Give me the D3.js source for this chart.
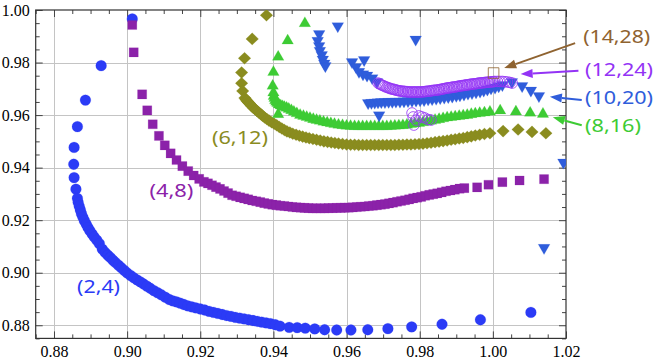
<!DOCTYPE html>
<html><head><meta charset="utf-8">
<script src="https://cdn.jsdelivr.net/npm/d3@7"></script>
<style>body{margin:0;background:#fff}svg{display:block}</style>
</head><body>
<svg id="c" width="655" height="362"></svg>
<script>
// ---------- data ----------
const seriesNames = ["(2,4)","(4,8)","(6,12)","(8,16)","(10,20)","(12,24)","(14,28)"];
const xTickValues = [0.88,0.90,0.92,0.94,0.96,0.98,1.00,1.02];
const xTickLabels = ["0.88","0.90","0.92","0.94","0.96","0.98","1.00","1.02"];
const yTickValues = [0.88,0.90,0.92,0.94,0.96,0.98,1.00];
const yTickLabels = ["0.88","0.90","0.92","0.94","0.96","0.98","1.00"];

const s2_4 = [
[0.9014,0.9966],[0.8929,0.9788],[0.8886,0.9657],[0.8864,0.9556],[0.8855,0.9477],[0.8854,0.9413],[0.8855,0.9362],[0.8860,0.9318],[0.8864,0.9283],
[0.8866,0.9268],[0.8869,0.9253],[0.8872,0.9239],[0.8875,0.9225],[0.8879,0.9211],[0.8883,0.9198],[0.8888,0.9185],[0.8893,0.9172],[0.8898,0.9160],[0.8904,0.9148],[0.8910,0.9136],[0.8917,0.9124],[0.8924,0.9111],[0.8932,0.9090],
[0.8940,0.9077],[0.8947,0.9067],[0.8954,0.9058],[0.8961,0.9048],[0.8968,0.9039],[0.8976,0.9029],[0.8984,0.9019],[0.8992,0.9009],[0.9000,0.8999],
[0.9009,0.8990],[0.9018,0.8981],[0.9027,0.8973],[0.9036,0.8965],[0.9045,0.8957],[0.9054,0.8949],[0.9063,0.8941],[0.9073,0.8932],[0.9083,0.8924],[0.9093,0.8916],[0.9104,0.8907],[0.9115,0.8898],
[0.9125,0.8893],[0.9135,0.8889],[0.9145,0.8884],[0.9155,0.8879],[0.9166,0.8874],[0.9177,0.8870],[0.9188,0.8866],[0.9200,0.8862],
[0.9212,0.8858],[0.9224,0.8853],[0.9236,0.8849],[0.9248,0.8845],[0.9260,0.8841],[0.9272,0.8837],[0.9284,0.8834],[0.9296,0.8830],[0.9308,0.8827],[0.9320,0.8824],[0.9332,0.8821],[0.9344,0.8818],[0.9356,0.8815],[0.9368,0.8812],[0.9380,0.8809],[0.9392,0.8806],[0.9405,0.8802],
[0.9418,0.8797],[0.9443,0.8792],[0.9465,0.8791],[0.9487,0.8789],[0.9513,0.8786],[0.9540,0.8783],[0.9573,0.8782],[0.9612,0.8782],[0.9658,0.8783],[0.9713,0.8787],[0.9778,0.8794],[0.9861,0.8804],[0.9966,0.8821],[1.0104,0.8849]
];

const s4_8 = [
[0.9014,0.9943],[0.9018,0.9839],[0.9041,0.9679],[0.9055,0.9618],[0.9070,0.9565],[0.9087,0.9521],[0.9103,0.9485],[0.9119,0.9454],[0.9135,0.9429],[0.9151,0.9406],[0.9167,0.9387],[0.9182,0.9370],[0.9197,0.9357],
[0.9210,0.9346],[0.9221,0.9340],[0.9232,0.9333],[0.9243,0.9326],[0.9254,0.9319],[0.9265,0.9311],[0.9276,0.9303],[0.9287,0.9295],[0.9298,0.9291],[0.9309,0.9287],[0.9320,0.9283],[0.9331,0.9279],[0.9342,0.9275],[0.9353,0.9272],[0.9364,0.9269],[0.9375,0.9265],[0.9386,0.9262],[0.9397,0.9259],[0.9408,0.9257],[0.9419,0.9255],[0.9430,0.9254],[0.9441,0.9252],[0.9452,0.9250],[0.9463,0.9249],[0.9474,0.9248],[0.9485,0.9247],[0.9496,0.9246],[0.9507,0.9245],[0.9518,0.9245],[0.9529,0.9245],[0.9540,0.9245],[0.9551,0.9246],[0.9562,0.9246],[0.9573,0.9247],[0.9584,0.9247],[0.9595,0.9248],[0.9606,0.9248],[0.9617,0.9249],[0.9628,0.9250],[0.9639,0.9251],[0.9650,0.9252],[0.9661,0.9254],[0.9672,0.9255],[0.9683,0.9257],[0.9694,0.9259],[0.9705,0.9261],[0.9716,0.9264],[0.9727,0.9267],[0.9738,0.9270],[0.9749,0.9273],[0.9760,0.9276],[0.9771,0.9279],[0.9782,0.9283],[0.9793,0.9286],[0.9804,0.9289],[0.9815,0.9293],[0.9826,0.9296],[0.9837,0.9299],[0.9848,0.9302],[0.9860,0.9306],[0.9872,0.9310],[0.9884,0.9313],[0.9896,0.9316],[0.9909,0.9320],[0.9922,0.9322],
[0.9957,0.9325],[0.9988,0.9335],[1.0026,0.9345],[1.0073,0.9351],[1.0140,0.9356]
];

const s6_12 = [
[0.9381,0.9980],[0.9342,0.9890],[0.9321,0.9816],[0.9313,0.9762],[0.9313,0.9721],[0.9316,0.9692],
[0.9322,0.9665],[0.9325,0.9659],[0.9328,0.9654],[0.9331,0.9649],[0.9334,0.9645],[0.9337,0.9640],[0.9341,0.9634],[0.9345,0.9628],[0.9350,0.9622],[0.9355,0.9616],[0.9360,0.9610],[0.9365,0.9604],[0.9370,0.9598],[0.9376,0.9591],[0.9382,0.9585],[0.9388,0.9579],[0.9395,0.9573],[0.9402,0.9567],[0.9409,0.9561],[0.9416,0.9555],[0.9423,0.9549],[0.9430,0.9543],[0.9437,0.9538],[0.9445,0.9534],[0.9453,0.9529],[0.9462,0.9525],[0.9471,0.9521],[0.9480,0.9518],[0.9489,0.9515],[0.9498,0.9512],[0.9508,0.9509],[0.9518,0.9506],[0.9528,0.9503],[0.9538,0.9500],[0.9548,0.9498],[0.9558,0.9496],[0.9568,0.9494],[0.9578,0.9492],[0.9589,0.9490],[0.9600,0.9488],[0.9611,0.9487],[0.9622,0.9487],[0.9633,0.9486],[0.9644,0.9486],[0.9655,0.9486],[0.9666,0.9486],[0.9677,0.9486],[0.9688,0.9486],[0.9699,0.9486],[0.9710,0.9486],[0.9721,0.9486],[0.9732,0.9486],[0.9743,0.9487],[0.9754,0.9487],[0.9765,0.9488],[0.9776,0.9488],[0.9787,0.9489],[0.9798,0.9490],[0.9809,0.9491],[0.9820,0.9493],[0.9831,0.9495],[0.9842,0.9497],[0.9853,0.9499],[0.9864,0.9501],[0.9875,0.9503],[0.9886,0.9506],[0.9897,0.9508],[0.9908,0.9511],[0.9919,0.9513],[0.9930,0.9516],[0.9941,0.9519],[0.9952,0.9522],[0.9964,0.9525],[0.9977,0.9528],[0.9992,0.9531],
[1.0028,0.9539],[1.0069,0.9545],[1.0107,0.9536],[1.0145,0.9531]
];

const s8_16 = [
[0.9486,0.9949],[0.9439,0.9883],[0.9413,0.9821],[0.9400,0.9763],[0.9398,0.9711],[0.9400,0.9685],[0.9413,0.9603],
[0.9401,0.9672],[0.9403,0.9664],[0.9405,0.9656],[0.9408,0.9650],[0.9411,0.9645],[0.9415,0.9640],[0.9420,0.9636],[0.9425,0.9633],[0.9430,0.9630],[0.9436,0.9627],[0.9442,0.9623],[0.9449,0.9618],[0.9456,0.9612],[0.9464,0.9606],[0.9473,0.9600],[0.9482,0.9596],[0.9491,0.9592],[0.9500,0.9588],[0.9509,0.9584],[0.9518,0.9581],[0.9527,0.9578],[0.9537,0.9574],[0.9547,0.9571],[0.9557,0.9568],[0.9567,0.9565],[0.9578,0.9563],[0.9589,0.9561],[0.9600,0.9559],[0.9611,0.9558],[0.9622,0.9557],[0.9633,0.9557],[0.9644,0.9557],[0.9655,0.9557],[0.9666,0.9557],[0.9677,0.9557],[0.9688,0.9557],[0.9699,0.9557],[0.9710,0.9557],[0.9721,0.9558],[0.9732,0.9559],[0.9743,0.9560],[0.9754,0.9561],[0.9765,0.9563],[0.9776,0.9565],[0.9787,0.9567],[0.9798,0.9569],[0.9809,0.9572],[0.9820,0.9575],[0.9831,0.9578],[0.9842,0.9581],[0.9853,0.9584],[0.9864,0.9587],[0.9875,0.9590],[0.9886,0.9592],[0.9897,0.9594],[0.9908,0.9596],[0.9919,0.9598],[0.9930,0.9600],[0.9941,0.9603],[0.9952,0.9605],[0.9964,0.9607],[0.9977,0.9609],[0.9992,0.9612],
[1.0020,0.9617],[1.0063,0.9613],[1.0102,0.9608],[1.0137,0.9604]
];

const s10_20 = [
[0.9576,0.9939],
[0.9525,0.9909],[0.9521,0.9883],[0.9525,0.9863],[0.9527,0.9845],[0.9532,0.9829],[0.9535,0.9812],[0.9539,0.9797],[0.9542,0.9787],
[0.9615,0.9802],[0.9648,0.9810],[0.9626,0.9783],[0.9634,0.9765],[0.9645,0.9756],[0.9656,0.9751],[0.9670,0.9741],[0.9683,0.9726],
[0.9789,0.9888],[0.9689,0.9600],[1.0193,0.9420],[1.0140,0.9095],
[0.9659,0.9646],[0.9668,0.9647],[0.9677,0.9648],[0.9686,0.9649],[0.9695,0.9650],[0.9705,0.9650],[0.9715,0.9651],[0.9725,0.9651],[0.9735,0.9652],[0.9746,0.9652],[0.9757,0.9653],[0.9768,0.9654],[0.9779,0.9655],[0.9790,0.9656],[0.9801,0.9657],[0.9812,0.9658],[0.9823,0.9660],[0.9834,0.9661],[0.9845,0.9663],[0.9856,0.9665],[0.9867,0.9667],[0.9878,0.9669],[0.9889,0.9671],[0.9900,0.9674],[0.9910,0.9676],[0.9921,0.9679],[0.9932,0.9682],[0.9943,0.9684],[0.9954,0.9687],[0.9965,0.9690],[0.9975,0.9694],[0.9985,0.9698],[0.9995,0.9702],[1.0006,0.9705],[1.0016,0.9710],[1.0026,0.9715],
[1.0052,0.9726],[1.0080,0.9711],[1.0104,0.9694],[1.0126,0.9673]
];

const s12_24 = [
[0.9686,0.9722],[0.9690,0.9719],[0.9694,0.9716],[0.9698,0.9713],[0.9702,0.9711],[0.9706,0.9708],[0.9710,0.9706],[0.9714,0.9704],[0.9718,0.9702],[0.9721,0.9700],[0.9725,0.9699],[0.9728,0.9698],[0.9732,0.9697],[0.9735,0.9695],[0.9739,0.9694],[0.9742,0.9693],[0.9746,0.9692],[0.9749,0.9691],[0.9753,0.9691],[0.9756,0.9690],[0.9760,0.9690],[0.9763,0.9689],[0.9767,0.9689],[0.9770,0.9688],[0.9774,0.9688],[0.9777,0.9688],[0.9781,0.9688],[0.9784,0.9688],[0.9788,0.9688],[0.9791,0.9688],[0.9795,0.9688],[0.9798,0.9688],[0.9802,0.9688],[0.9805,0.9688],[0.9809,0.9689],[0.9812,0.9689],[0.9816,0.9690],[0.9819,0.9690],[0.9823,0.9691],[0.9826,0.9691],[0.9830,0.9692],[0.9833,0.9693],[0.9837,0.9694],[0.9840,0.9694],[0.9844,0.9695],[0.9847,0.9695],[0.9851,0.9696],[0.9854,0.9697],[0.9858,0.9698],[0.9861,0.9699],[0.9865,0.9700],[0.9868,0.9701],[0.9872,0.9702],[0.9875,0.9703],[0.9879,0.9704],[0.9882,0.9704],[0.9886,0.9705],[0.9889,0.9706],[0.9893,0.9707],[0.9896,0.9707],[0.9900,0.9708],[0.9903,0.9709],[0.9907,0.9710],[0.9910,0.9711],[0.9914,0.9712],[0.9917,0.9712],[0.9921,0.9713],[0.9924,0.9714],[0.9928,0.9715],[0.9931,0.9715],[0.9935,0.9716],[0.9938,0.9717],[0.9942,0.9718],[0.9945,0.9718],[0.9949,0.9719],[0.9952,0.9719],[0.9956,0.9720],[0.9959,0.9721],[0.9963,0.9722],[0.9966,0.9722],[0.9970,0.9723],[0.9973,0.9723],[0.9977,0.9724],[0.9980,0.9724],[0.9984,0.9725],[0.9987,0.9725],[0.9991,0.9726],[0.9994,0.9726],[0.9998,0.9727],[1.0001,0.9727],[1.0005,0.9728],[1.0012,0.9728],[1.0019,0.9728],[1.0026,0.9728],[1.0033,0.9727],[1.0040,0.9726],[1.0047,0.9724],[1.0053,0.9722],
[0.9779,0.9608],[0.9782,0.9593],[0.9784,0.9562],[0.9790,0.9581],[0.9798,0.9597],[0.9806,0.9593],[0.9814,0.9589],[0.9823,0.9583],[0.9831,0.9581]
];

const s14_28 = [[1.0002,0.9760]];

// annotation anchors (data units): label start/baseline, arrow start, arrow tip
const labelAnchors = [[0.8863,0.8923],[0.9061,0.9288],[0.9232,0.9490],[1.0252,0.9536],[1.0252,0.9642],[1.0252,0.9749],[1.0247,0.9876]];
const labelWidths = [43,44,56,56,68,68,67];
const arrowFrom = [null,null,null,[1.0243,0.9561],[1.0243,0.9657],[1.0234,0.9769],[1.0225,0.9874]];
const arrowTo   = [null,null,null,[1.0164,0.9592],[1.0156,0.9670],[1.0076,0.9756],[1.0031,0.9779]];

// ---------- styling ----------
const colors = ["#2b3bf6","#8b22a9","#8a8c1f","#3dcb34","#2f5ddb","#9333f5","#8f6330"];

const svg = d3.select("#c");
const x = d3.scaleLinear().domain([0.875,1.02]).range([35.7,566]);
const y = d3.scaleLinear().domain([0.875,1.0]).range([338.4,10]);

svg.append("defs").append("clipPath").attr("id","clip")
  .append("rect").attr("x",x(0.875)).attr("y",y(1.0)).attr("width",x(1.02)-x(0.875)).attr("height",y(0.875)-y(1.0));

// gridlines
const grid = svg.append("g").attr("stroke","#c4c4c4").attr("stroke-width",1);
grid.selectAll(".gx").data(xTickValues.filter(v=>v<1.019)).join("line")
  .attr("x1",d=>Math.round(x(d))+0.5).attr("x2",d=>Math.round(x(d))+0.5).attr("y1",y(1.0)).attr("y2",y(0.875));
grid.selectAll(".gy").data(yTickValues.filter(v=>v<0.999)).join("line")
  .attr("y1",d=>Math.round(y(d))+0.5).attr("y2",d=>Math.round(y(d))+0.5).attr("x1",x(0.875)).attr("x2",x(1.02));

// axes
const minorX = d3.range(0.875,1.0201,0.005).filter(v=>!xTickValues.some(t=>Math.abs(t-v)<1e-6));
const minorY = d3.range(0.875,1.0001,0.005).filter(v=>!yTickValues.some(t=>Math.abs(t-v)<1e-6));
const fmtX = d=>xTickLabels[xTickValues.findIndex(t=>Math.abs(t-d)<1e-6)];
const fmtY = d=>yTickLabels[yTickValues.findIndex(t=>Math.abs(t-d)<1e-6)];

function styleAxis(g){
  g.select(".domain").remove();
  g.selectAll(".tick line").attr("stroke","#444");
  g.selectAll(".tick text").attr("fill","#000").attr("font-family","'Liberation Serif','Times New Roman',serif").attr("font-size",16);
}
const B = y(0.875), T = y(1.0), L = x(0.875), R = x(1.02);
svg.append("g").attr("transform",`translate(0,${B})`).call(d3.axisBottom(x).tickValues(xTickValues).tickSize(-7).tickPadding(7).tickFormat(fmtX)).call(styleAxis);
svg.append("g").attr("transform",`translate(0,${B})`).call(d3.axisBottom(x).tickValues(minorX).tickSize(-4).tickFormat("")).call(styleAxis);
svg.append("g").attr("transform",`translate(0,${T})`).call(d3.axisTop(x).tickValues(xTickValues).tickSize(-7).tickFormat("")).call(styleAxis);
svg.append("g").attr("transform",`translate(0,${T})`).call(d3.axisTop(x).tickValues(minorX).tickSize(-4).tickFormat("")).call(styleAxis);
svg.append("g").attr("transform",`translate(${L},0)`).call(d3.axisLeft(y).tickValues(yTickValues).tickSize(-7).tickPadding(6).tickFormat(fmtY)).call(styleAxis);
svg.append("g").attr("transform",`translate(${L},0)`).call(d3.axisLeft(y).tickValues(minorY).tickSize(-4).tickFormat("")).call(styleAxis);
svg.append("g").attr("transform",`translate(${R},0)`).call(d3.axisRight(y).tickValues(yTickValues).tickSize(-7).tickFormat("")).call(styleAxis);
svg.append("g").attr("transform",`translate(${R},0)`).call(d3.axisRight(y).tickValues(minorY).tickSize(-4).tickFormat("")).call(styleAxis);

// frame
svg.append("rect").attr("x",L).attr("y",T).attr("width",R-L).attr("height",B-T)
  .attr("fill","none").attr("stroke","#333").attr("stroke-width",1.2);

// markers
const plot = svg.append("g").attr("clip-path","url(#clip)");
const diamondType = { draw(ctx,size){ const h=Math.sqrt(size/2); ctx.moveTo(0,-h*1.05); ctx.lineTo(h*1.1,0); ctx.lineTo(0,h*1.05); ctx.lineTo(-h*1.1,0); ctx.closePath(); } };
const specs = [
  {data:s2_4,  sym:d3.symbolCircle,   size:92,  fill:true,  rot:0},
  {data:s4_8,  sym:d3.symbolSquare,   size:84,  fill:true,  rot:0},
  {data:s6_12, sym:diamondType,       size:66,  fill:true,  rot:0},
  {data:s8_16, sym:d3.symbolTriangle, size:58,  fill:true,  rot:0},
  {data:s10_20,sym:d3.symbolTriangle, size:60,  fill:true,  rot:180},
  {data:s12_24,sym:d3.symbolCircle,   size:88,  fill:false, rot:0},
  {data:s14_28,sym:d3.symbolSquare,   size:112, fill:false, rot:0}
];
specs.forEach((s,i)=>{
  const path = d3.symbol().type(s.sym).size(s.size)();
  plot.append("g").selectAll("path").data(s.data).join("path")
    .attr("d",path)
    .attr("transform",d=>`translate(${x(d[0])},${y(d[1])})` + (s.rot?` rotate(${s.rot})`:""))
    .attr("fill",s.fill?colors[i]:"none")
    .attr("stroke",colors[i])
    .attr("stroke-width",s.fill?0.3:1)
    .attr("stroke-opacity",s.fill?0.6:0.8);
});

// labels and arrows
const ann = svg.append("g");
seriesNames.forEach((name,i)=>{
  ann.append("text").attr("x",x(labelAnchors[i][0])).attr("y",y(labelAnchors[i][1]))
    .attr("fill",colors[i]).attr("font-family","'Noto Sans','Open Sans',sans-serif").attr("font-size",18)
    .attr("textLength",labelWidths[i]).attr("lengthAdjust","spacingAndGlyphs").text(name);
  if(arrowFrom[i]){
    const x1=x(arrowFrom[i][0]), y1=y(arrowFrom[i][1]), x2=x(arrowTo[i][0]), y2=y(arrowTo[i][1]);
    const a=Math.atan2(y2-y1,x2-x1), len=12, w=4.5;
    const bx=x2-len*Math.cos(a), by=y2-len*Math.sin(a);
    ann.append("line").attr("x1",x1).attr("y1",y1).attr("x2",bx).attr("y2",by).attr("stroke",colors[i]).attr("stroke-width",2);
    ann.append("path").attr("d",`M${x2},${y2}L${bx-w*Math.sin(a)},${by+w*Math.cos(a)}L${bx+w*Math.sin(a)},${by-w*Math.cos(a)}Z`).attr("fill",colors[i]);
  }
});
</script>
</body></html>
